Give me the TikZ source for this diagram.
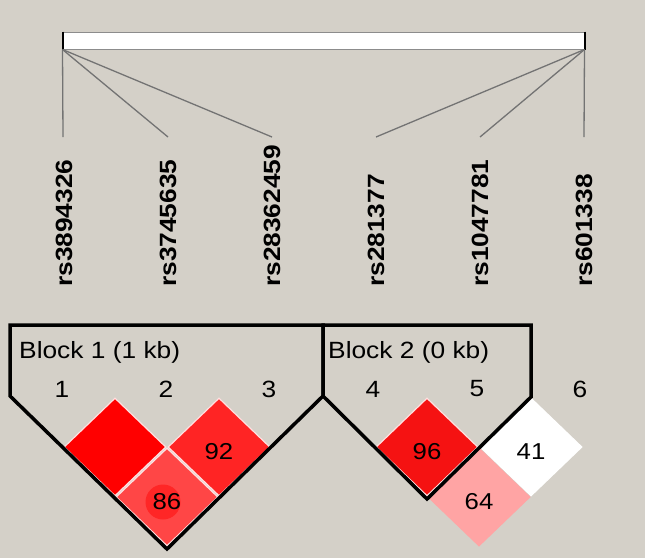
\documentclass[tikz,border=0pt]{standalone}
\usepackage{fontspec}
\setmainfont{Liberation Sans}[FakeStretch=1.12]
\usepackage{tikz}
\usetikzlibrary{shapes,positioning}
\definecolor{panel}{HTML}{D4D0C8}
\definecolor{ldfull}{HTML}{FF0000}
\definecolor{ldninetwo}{HTML}{FF2424}
\definecolor{ldeightsix}{HTML}{FF4646}
\definecolor{ldspot}{HTML}{FF2626}
\definecolor{ldninesix}{HTML}{F51212}
\definecolor{ldsixfour}{HTML}{FFA4A4}
\tikzset{
  chrom/.style={draw=gray!90, fill=white, line width=1pt, minimum width=521pt, minimum height=17pt, inner sep=0pt},
  tick/.style={draw=black!55, line width=1.3pt},
  snp/.style={rotate=90, anchor=west, inner sep=0pt, font=\bfseries\fontsize{23.5}{27}\selectfont},
  marker/.style={inner sep=0pt, font=\fontsize{23.5}{27}\selectfont},
  ld/.style={diamond, minimum width=102pt, minimum height=98pt, inner sep=0pt, draw=white!88!red, line width=1.2pt},
  ldnum/.style={inner sep=0pt, yshift=-5pt, font=\fontsize{23}{27}\selectfont},
  blockline/.style={draw=black, line width=3.5pt}
}
\begin{document}
\begin{tikzpicture}[x=1pt, y=-1pt]
      \useasboundingbox (0,0) rectangle (645,558);
      \fill[panel] (0,0) rectangle (645,558);

      \node[chrom] at (323.5,40.5) (bar) {};
      \draw[line width=2pt] (bar.north west) -- (bar.south west);
      \draw[line width=2pt] (bar.north east) -- (bar.south east);

      \coordinate (t1) at (63,137);
      \coordinate (t2) at (168,137);
      \coordinate (t3) at (272,137);
      \coordinate (t4) at (376,137);
      \coordinate (t5) at (480,137);
      \coordinate (t6) at (584,137);
      \draw[tick] (bar.south west) -- (t1);
      \draw[tick] (bar.south west) -- (t2);
      \draw[tick] (bar.south west) -- (t3);
      \draw[tick] (bar.south east) -- (t4);
      \draw[tick] (bar.south east) -- (t5);
      \draw[tick] (bar.south east) -- (t6);

      \node[snp] at (64,287) (rs3894326) {rs3894326};
      \node[snp] at (168,287) (rs3745635) {rs3745635};
      \node[snp] at (272,287) (rs28362459) {rs28362459};
      \node[snp] at (376,287) (rs281377) {rs281377};
      \node[snp] at (480,287) (rs1047781) {rs1047781};
      \node[snp] at (584,287) (rs601338) {rs601338};

      \node[marker, anchor=west] at (19,352) (block1) {Block 1 (1 kb)};
      \node[marker, anchor=west] at (328,352) (block2) {Block 2 (0 kb)};

      \node[marker] at (62,389) (m1) {1};
      \node[marker] at (166,389) (m2) {2};
      \node[marker] at (269,389) (m3) {3};
      \node[marker] at (373,389) (m4) {4};
      \node[marker] at (477,389) (m5) {5};
      \node[marker] at (580,389) (m6) {6};

      \node[ld, fill=ldfull] at (115,447) (d12) {};
      \node[ld, fill=ldninetwo] at (219,447) (d23) {};
      \node[ld, fill=ldeightsix] at (167,497) (d13) {};
      \node[ld, fill=ldninesix] at (427,447) (d45) {};
      \node[ld, fill=white, draw=white] at (531,447) (d56) {};
      \node[ld, fill=ldsixfour, draw=ldsixfour] at (479,497) (d46) {};

      \fill[ldspot] (163,502) circle (17.5);

      \node[ldnum] at (d23) {92};
      \node[ldnum] at (d13) {86};
      \node[ldnum] at (d45) {96};
      \node[ldnum] at (d56) {41};
      \node[ldnum] at (d46) {64};

      \draw[blockline] (10,325) -- (323,325) -- (323,396) -- (167,549) -- (10,396) -- cycle;
      \draw[blockline] (323,325) -- (531,325) -- (531,397) -- (427,499) -- (323,396) -- cycle;
    \end{tikzpicture}
\end{document}
